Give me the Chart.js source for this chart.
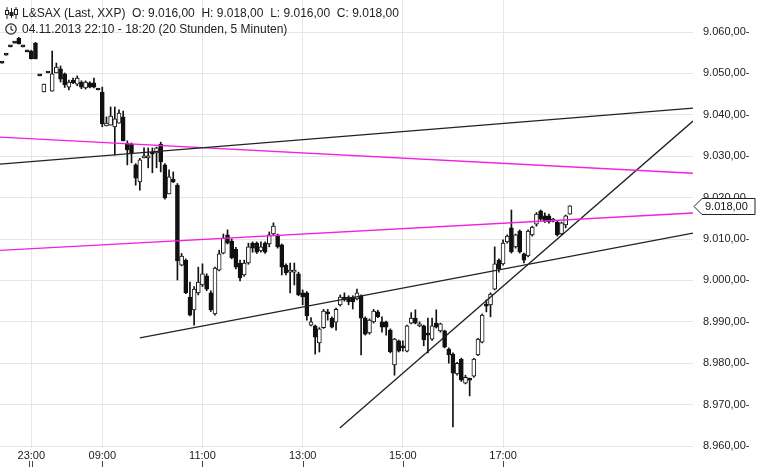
<!DOCTYPE html>
<html>
<head>
<meta charset="utf-8">
<script src="https://cdn.jsdelivr.net/npm/chart.js@4.4.1/dist/chart.umd.min.js"></script>
<style>
  body { margin: 0; background: #fff; }
  #wrap { position: relative; width: 758px; height: 467px; }
  #head { position: absolute; left: 5px; top: 5px; font: 12px "Liberation Sans", Arial, sans-serif; color: #222; line-height: 16px; }
  #head div { white-space: pre; }
  #head svg { vertical-align: -2px; margin-right: 4px; }
</style>
</head>
<body>
<div id="wrap">
  <canvas id="chart" width="758" height="467"></canvas>
  <div id="head">
    <div><svg width="13" height="12" viewBox="0 0 13 12"><path d="M2 0v12M6.5 1v10M11 0v12" stroke="#222" stroke-width="1"/><rect x="0.5" y="3.5" width="3" height="4" fill="#fff" stroke="#222"/><rect x="5" y="5.5" width="3" height="3" fill="#222" stroke="#222"/><rect x="9.5" y="2.5" width="3" height="5" fill="#fff" stroke="#222"/></svg>L&amp;SAX (Last, XXP)  O: 9.016,00  H: 9.018,00  L: 9.016,00  C: 9.018,00</div>
    <div><svg width="13" height="12" viewBox="0 0 13 12"><circle cx="6" cy="6" r="5.2" fill="none" stroke="#222" stroke-width="1.2"/><path d="M6 2.8v3.4l2.3 1.6" fill="none" stroke="#222" stroke-width="1.1"/></svg>04.11.2013 22:10 - 18:20 (20 Stunden, 5 Minuten)</div>
  </div>
</div>
<script>
"use strict";

// 5 minute candles
var open = [
  9052.5, 9054.4, 9056.4, 9057.3, 9058.5, 9056.4, 9055.2, 9055.4, 9057.3, 9049.4,
  9045.5, 9050.1, 9045.7, 9050.1, 9051.1, 9049.9, 9046.7, 9048.4, 9047.4, 9047.9,
  9046.5, 9047.7, 9047.7, 9046.0, 9045.5, 9037.3, 9037.5, 9037.1, 9038.0, 9039.5,
  9033.2, 9032.9, 9027.9, 9023.8, 9029.6, 9029.6, 9030.5, 9030.8, 9032.9, 9027.9,
  9020.9, 9024.5, 9023.0, 9003.7, 9004.9, 8996.0, 8992.9, 8997.0, 8998.9, 9001.1,
  8997.0, 8991.9, 9002.5, 9006.6, 9011.0, 9009.5, 9007.5, 9004.2, 9001.3, 9004.2,
  9009.0, 9009.0, 9007.1, 9009.0, 9008.8, 9011.2, 9011.0, 9008.6, 9003.7, 9002.0,
  9002.0, 9001.6, 8997.0, 8997.0, 8989.2, 8989.0, 8984.9, 8988.6, 8991.9, 8990.9,
  8989.9, 8994.1, 8996.0, 8996.0, 8996.0, 8995.5, 8996.3, 8990.9, 8987.3, 8990.0,
  8992.4, 8990.0, 8990.0, 8988.0, 8979.6, 8985.4, 8983.7, 8982.9, 8989.7, 8990.9,
  8989.0, 8989.0, 8986.8, 8985.8, 8989.7, 8987.8, 8987.8, 8983.4, 8982.2, 8977.4,
  8981.0, 8975.2, 8975.9, 8976.9, 8982.0, 8985.1, 8993.8, 8994.1, 8997.9, 9004.9,
  9004.0, 9009.3, 9012.7, 9008.1, 9011.9, 9006.4, 9005.9, 9011.0, 9013.6, 9016.8,
  9015.6, 9015.6, 9014.3, 9014.1, 9011.2, 9013.4, 9016.0
];
var high = [
  9052.5, 9054.4, 9056.4, 9057.3, 9058.7, 9056.4, 9055.2, 9055.6, 9057.5, 9049.4,
  9047.4, 9050.1, 9055.4, 9052.5, 9051.8, 9050.1, 9048.4, 9048.9, 9049.4, 9048.2,
  9048.2, 9048.0, 9048.9, 9046.0, 9046.7, 9039.5, 9041.9, 9041.9, 9041.2, 9040.9,
  9033.7, 9033.2, 9028.2, 9029.5, 9032.0, 9032.0, 9032.0, 9032.2, 9033.4, 9028.2,
  9026.7, 9026.2, 9023.4, 9006.5, 9005.2, 8999.6, 8998.5, 9003.2, 9004.0, 9001.6,
  8997.5, 9003.2, 9007.3, 9011.2, 9012.2, 9010.0, 9008.0, 9004.9, 9004.9, 9009.0,
  9009.3, 9009.3, 9009.3, 9009.3, 9011.7, 9013.9, 9011.2, 9008.8, 9004.0, 9004.2,
  9004.2, 9002.0, 8997.7, 8997.3, 8991.0, 8989.2, 8988.6, 8993.0, 8993.0, 8991.2,
  8993.3, 8996.5, 8997.0, 8996.3, 8996.3, 8997.9, 8996.5, 8991.2, 8990.7, 8993.0,
  8992.8, 8991.2, 8990.2, 8988.3, 8986.0, 8985.6, 8985.4, 8989.2, 8992.2, 8992.9,
  8990.0, 8989.2, 8990.9, 8990.9, 8992.9, 8989.7, 8988.0, 8983.7, 8982.5, 8980.2,
  8981.2, 8977.1, 8976.4, 8981.2, 8986.0, 8991.9, 8995.3, 8997.0, 9008.1, 9005.2,
  9009.8, 9011.0, 9017.0, 9011.2, 9012.2, 9006.6, 9012.2, 9013.1, 9016.4, 9017.0,
  9016.3, 9016.0, 9015.0, 9014.3, 9014.1, 9015.8, 9018.0
];
var low = [
  9052.5, 9054.4, 9056.4, 9057.3, 9057.1, 9056.4, 9055.2, 9053.5, 9053.5, 9049.4,
  9045.5, 9050.1, 9045.7, 9050.1, 9047.9, 9046.6, 9046.0, 9047.5, 9047.0, 9046.3,
  9046.2, 9046.5, 9046.5, 9046.0, 9037.1, 9037.3, 9037.5, 9030.3, 9038.0, 9033.7,
  9027.9, 9028.4, 9023.0, 9021.8, 9029.6, 9027.2, 9026.0, 9027.2, 9026.2, 9019.6,
  9020.9, 9023.6, 9000.1, 9003.5, 8996.8, 8991.4, 8989.2, 8996.5, 8998.5, 8997.5,
  8992.5, 8991.6, 9002.3, 9006.4, 9008.8, 9005.2, 9002.8, 8999.9, 9001.0, 9003.9,
  9006.8, 9006.5, 9006.8, 9006.5, 9008.1, 9010.9, 9007.8, 9001.3, 9001.3, 8997.0,
  8998.9, 8996.3, 8994.1, 8990.4, 8989.0, 8982.2, 8982.7, 8988.4, 8990.4, 8988.5,
  8988.0, 8993.8, 8995.0, 8994.1, 8993.1, 8995.3, 8982.0, 8986.8, 8987.0, 8989.7,
  8991.0, 8987.5, 8986.8, 8982.5, 8977.1, 8982.7, 8982.9, 8982.7, 8989.5, 8989.5,
  8988.8, 8984.2, 8982.5, 8985.5, 8988.5, 8987.5, 8983.7, 8980.0, 8964.6, 8977.1,
  8975.6, 8975.0, 8972.1, 8976.6, 8981.8, 8984.9, 8992.4, 8991.2, 8997.7, 9002.0,
  9003.7, 9009.0, 9006.6, 9007.8, 9006.6, 9004.2, 9005.7, 9010.7, 9013.1, 9014.5,
  9014.0, 9013.8, 9014.1, 9010.7, 9011.0, 9012.7, 9016.0
];
var close = [
  9052.5, 9054.4, 9056.4, 9057.3, 9057.1, 9056.4, 9055.2, 9053.5, 9053.5, 9049.4,
  9047.4, 9050.1, 9049.9, 9051.5, 9048.6, 9047.2, 9047.9, 9047.7, 9048.9, 9046.7,
  9047.9, 9046.7, 9046.7, 9046.0, 9037.8, 9038.0, 9039.7, 9039.0, 9040.4, 9033.7,
  9031.5, 9030.8, 9024.7, 9029.1, 9030.0, 9030.0, 9030.5, 9032.0, 9028.6, 9019.9,
  9025.0, 9023.8, 9004.7, 9005.9, 8997.0, 8991.6, 8997.9, 8999.6, 9001.6, 8997.9,
  8992.9, 9003.0, 9006.4, 9010.2, 9009.0, 9005.5, 9003.2, 9000.6, 9004.2, 9008.1,
  9007.8, 9006.8, 9008.1, 9006.8, 9011.0, 9013.1, 9008.1, 9003.2, 9001.8, 9002.5,
  9002.5, 8996.5, 8996.0, 8991.4, 8990.0, 8986.3, 8988.3, 8992.6, 8991.9, 8988.7,
  8993.0, 8996.0, 8995.3, 8994.8, 8994.8, 8997.0, 8990.9, 8987.0, 8990.4, 8992.6,
  8991.2, 8988.7, 8988.7, 8982.7, 8985.8, 8982.9, 8983.7, 8989.0, 8990.9, 8989.7,
  8989.5, 8985.6, 8986.8, 8989.0, 8988.7, 8989.5, 8983.9, 8982.0, 8977.6, 8980.0,
  8975.9, 8976.6, 8975.9, 8981.0, 8985.8, 8991.6, 8993.8, 8996.7, 9004.0, 9002.8,
  9009.0, 9010.7, 9006.9, 9011.0, 9006.9, 9004.9, 9011.9, 9012.9, 9016.0, 9014.8,
  9014.3, 9014.1, 9014.8, 9011.0, 9013.9, 9015.6, 9018.0
];

// empty slots after the last candle up to the price axis
var slotCount = 166;

// time axis labels, at candle index
var tickIndex = [7, 24, 48, 72, 96, 120];
var tickText = ["23:00", "09:00", "11:00", "13:00", "15:00", "17:00"];

// trend lines: [start index, end index] and [start value, end value]
var trendX = [-0.5, 165.5];
var channelTopBlack = [9028.1, 9041.6];
var channelTopPink = [9034.6, 9025.9];
var channelLowPink = [9007.25, 9016.3];
var supportX = [33.0, 165.5];
var supportBlack = [8986.1, 9011.4];
var steepX = [80.9, 165.5];
var steepBlack = [8964.35, 9038.5];

var yMin = 8959.52;
var yMax = 9067.73;

var labels = [];
for (var i = 0; i < slotCount; i++) labels.push(String(i));

function deNumber(v) {
  var s = v.toFixed(2).split(".");
  var intPart = s[0].replace(/\B(?=(\d{3})+(?!\d))/g, ".");
  return intPart + "," + s[1];
}

function linePoints(xs, ys) {
  return [{ x: xs[0], y: ys[0] }, { x: xs[1], y: ys[1] }];
}

var bodyColor = open.map(function (o, i) {
  return close[i] > o ? "#ffffff" : "#111111";
});

Chart.defaults.font.family = "'Liberation Sans', Arial, sans-serif";
Chart.defaults.font.size = 11;
Chart.defaults.color = "#222";

// price marker and small time ticks under the axis
var extras = {
  id: "extras",
  afterDraw: function (chart) {
    var c = chart.ctx;
    var xs = chart.scales.x;
    var ys = chart.scales.y;
    c.save();
    c.strokeStyle = "#444";
    c.lineWidth = 1;
    tickIndex.forEach(function (t, k) {
      var px = Math.round(xs.getPixelForValue(t)) + 0.5;
      c.beginPath();
      if (k === 0) {
        c.moveTo(px - 2, 461); c.lineTo(px - 2, 467);
        c.moveTo(px + 1, 461); c.lineTo(px + 1, 467);
      } else {
        c.moveTo(px, 461); c.lineTo(px, 467);
      }
      c.stroke();
    });
    var last = close[close.length - 1];
    var py = Math.round(ys.getPixelForValue(last)) + 0.5;
    c.beginPath();
    c.moveTo(694, py);
    c.lineTo(702, py - 8);
    c.lineTo(755, py - 8);
    c.lineTo(755, py + 8);
    c.lineTo(702, py + 8);
    c.closePath();
    c.fillStyle = "#fff";
    c.fill();
    c.strokeStyle = "#222";
    c.stroke();
    c.fillStyle = "#111";
    c.font = "11px 'Liberation Sans', Arial, sans-serif";
    c.textBaseline = "middle";
    c.fillText(deNumber(last), 705, py + 0.5);
    c.restore();
  },
};

function trendLine(xs, ys, colour, width) {
  return {
    type: "line",
    data: linePoints(xs, ys),
    xAxisID: "xl",
    borderColor: colour,
    borderWidth: width,
    pointRadius: 0,
    order: 0,
  };
}

var ctx = document.getElementById("chart");

var myChart = new Chart(ctx, {
  type: "bar",
  data: {
    labels: labels,
    datasets: [
      trendLine(trendX, channelTopBlack, "#222", 1.3),
      trendLine(trendX, channelTopPink, "rgb(245, 30, 225)", 1.4),
      trendLine(trendX, channelLowPink, "rgb(245, 30, 225)", 1.4),
      trendLine(supportX, supportBlack, "#222", 1.3),
      trendLine(steepX, steepBlack, "#222", 1.3),
      {
        // candle bodies
        data: open.map(function (o, i) { return [o, close[i]]; }),
        backgroundColor: bodyColor,
        borderColor: "#111",
        borderWidth: 1,
        borderSkipped: false,
        barThickness: 4,
        minBarLength: 2,
        grouped: false,
        order: 1,
      },
      {
        // wicks
        data: low.map(function (l, i) { return [l, high[i]]; }),
        backgroundColor: "#111",
        borderWidth: 0,
        barThickness: 1,
        grouped: false,
        order: 2,
      },
    ],
  },
  options: {
    responsive: false,
    animation: false,
    events: [],
    layout: { padding: 0 },
    plugins: {
      legend: { display: false },
      tooltip: { enabled: false },
    },
    scales: {
      x: {
        type: "category",
        offset: true,
        border: { display: false },
        grid: { color: "#e6e6e6", offset: false, drawTicks: false },
        afterBuildTicks: function (axis) {
          axis.ticks = axis.ticks.filter(function (t) {
            return tickIndex.indexOf(t.value) >= 0;
          });
        },
        afterFit: function (axis) {
          axis.height = 19;
          axis.paddingLeft = 0;
          axis.paddingRight = 0;
        },
        ticks: {
          autoSkip: false,
          maxRotation: 0,
          padding: 1,
          color: "#222",
          callback: function (value) {
            var k = tickIndex.indexOf(value);
            return k >= 0 ? tickText[k] : "";
          },
        },
      },
      xl: {
        type: "linear",
        display: false,
        offset: false,
        min: -0.5,
        max: slotCount - 0.5,
      },
      y: {
        position: "right",
        min: yMin,
        max: yMax,
        border: { display: false },
        grid: { color: "#e6e6e6", drawTicks: false },
        afterFit: function (axis) {
          axis.width = 65;
          axis.paddingTop = 0;
          axis.paddingBottom = 0;
        },
        ticks: {
          stepSize: 10,
          includeBounds: false,
          padding: 10,
          color: "#222",
          callback: function (value) { return deNumber(value) + "-"; },
        },
      },
    },
  },
  plugins: [extras],
});
</script>
</body>
</html>
